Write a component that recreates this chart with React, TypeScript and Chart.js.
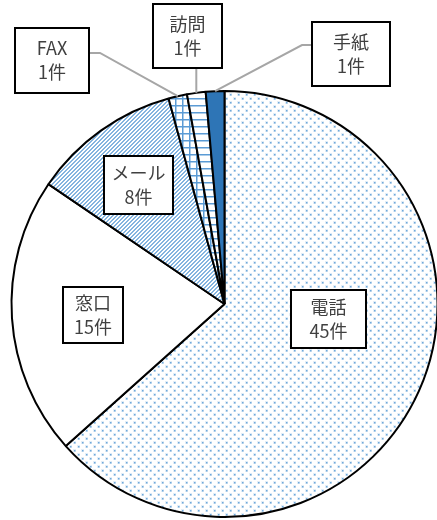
import React, { useEffect, useRef } from "react";
import { Chart, registerables } from "chart.js";

Chart.register(...registerables);

// Contact channels and how many inquiries came through each
const categories = ["電話", "窓口", "メール", "FAX", "訪問", "手紙"];
const counts = [45, 15, 8, 1, 1, 1];
const unit = "件";

const BLUE = "#5B9BD5";
const DARK_BLUE = "#2E75B6";
const LEADER = "#A6A6A6";
const TEXT = "#404040";

// Label boxes: offset of box centre from pie centre, box size, and leader style
type LabelLayout = {
  dx: number;
  dy: number;
  w: number;
  h: number;
  leader?: "left" | "right" | "down";
  attachDy?: number;
};
const labelLayout: LabelLayout[] = [
  { dx: 104, dy: 15, w: 75, h: 58 },
  { dx: -131.5, dy: 11, w: 60, h: 56 },
  { dx: -86, dy: -119, w: 69, h: 58 },
  { dx: -172.5, dy: -243.5, w: 74, h: 65, leader: "right", attachDy: -7.5 },
  { dx: -37, dy: -268, w: 69, h: 64, leader: "down" },
  { dx: 126.5, dy: -250, w: 78, h: 64, leader: "left", attachDy: -9 },
];

function makeTile(size: number, draw: (c: CanvasRenderingContext2D) => void) {
  const cv = document.createElement("canvas");
  cv.width = size;
  cv.height = size;
  const c = cv.getContext("2d")!;
  c.fillStyle = "#ffffff";
  c.fillRect(0, 0, size, size);
  draw(c);
  return cv;
}

function makeFills(ctx: CanvasRenderingContext2D): (string | CanvasPattern)[] {
  const dots = makeTile(8, (c) => {
    c.fillStyle = "rgba(91,155,213,0.18)";
    c.fillRect(1, 1, 3, 3);
    c.fillRect(5, 5, 3, 3);
    c.fillStyle = "rgba(91,155,213,0.85)";
    c.fillRect(2, 2, 1.5, 1.5);
    c.fillRect(6, 6, 1.5, 1.5);
  });
  // pixel-aligned upward diagonal, 2px wide, one line every 4px
  const diagonal = makeTile(4, (c) => {
    c.fillStyle = "rgba(91,155,213,0.75)";
    for (let k = 0; k < 4; k++) {
      c.fillRect(3 - k, k, 1, 1);
      c.fillRect((4 - k) % 4, k, 1, 1);
    }
  });
  const grid = makeTile(7, (c) => {
    c.fillStyle = BLUE;
    c.fillRect(0, 0, 7, 1.5);
    c.fillRect(0, 0, 1.5, 7);
  });
  const horizontal = makeTile(7, (c) => {
    c.fillStyle = BLUE;
    c.fillRect(0, 0, 7, 1.5);
  });
  return [
    ctx.createPattern(dots, "repeat")!,
    "#ffffff",
    ctx.createPattern(diagonal, "repeat")!,
    ctx.createPattern(grid, "repeat")!,
    ctx.createPattern(horizontal, "repeat")!,
    DARK_BLUE,
  ];
}

const labelPlugin = {
  id: "boxedLabels",
  afterDatasetsDraw(chart: any) {
    const ctx: CanvasRenderingContext2D = chart.ctx;
    const meta = chart.getDatasetMeta(0);
    ctx.save();
    meta.data.forEach((arc: any, i: number) => {
      const p = arc.getProps(["x", "y", "startAngle", "endAngle", "outerRadius"], true);
      const lay = labelLayout[i];
      const cx = p.x + lay.dx;
      const cy = p.y + lay.dy;
      const left = cx - lay.w / 2;
      const top = cy - lay.h / 2;

      if (lay.leader) {
        const mid = (p.startAngle + p.endAngle) / 2;
        const ax = p.x + Math.cos(mid) * p.outerRadius;
        const ay = p.y + Math.sin(mid) * p.outerRadius;
        ctx.strokeStyle = LEADER;
        ctx.lineWidth = 2;
        ctx.beginPath();
        if (lay.leader === "down") {
          ctx.moveTo(ax, ay);
          ctx.lineTo(ax, top + lay.h);
        } else {
          const sy = cy + (lay.attachDy || 0);
          const sx = lay.leader === "right" ? left + lay.w : left;
          const ex = lay.leader === "right" ? sx + 11 : sx - 10;
          ctx.moveTo(ax, ay);
          ctx.lineTo(ex, sy);
          ctx.lineTo(sx, sy);
        }
        ctx.stroke();
      }

      ctx.fillStyle = "#ffffff";
      ctx.fillRect(left, top, lay.w, lay.h);
      ctx.strokeStyle = "#000000";
      ctx.lineWidth = 2;
      ctx.strokeRect(left, top, lay.w, lay.h);

      ctx.fillStyle = TEXT;
      ctx.font = "18px 'Noto Sans CJK JP', 'Noto Sans', sans-serif";
      ctx.textAlign = "center";
      ctx.textBaseline = "middle";
      ctx.fillText(categories[i], cx, cy - 12);
      ctx.fillText(`${counts[i]}${unit}`, cx, cy + 12);
    });
    ctx.restore();
  },
};

export default function App() {
  const canvasRef = useRef<HTMLCanvasElement | null>(null);

  useEffect(() => {
    const canvas = canvasRef.current;
    if (!canvas) return;
    const ctx = canvas.getContext("2d")!;
    const chart = new Chart(canvas, {
      type: "pie",
      data: {
        labels: categories,
        datasets: [
          {
            data: counts,
            backgroundColor: makeFills(ctx),
            borderColor: "#000000",
            borderWidth: 2,
            borderAlign: "center",
          },
        ],
      },
      options: {
        responsive: false,
        animation: false,
        devicePixelRatio: 1,
        layout: { padding: { left: 10, right: 10, top: 90, bottom: 2 } },
        plugins: {
          legend: { display: false },
          tooltip: { enabled: false },
        },
      },
      plugins: [labelPlugin],
    });
    return () => chart.destroy();
  }, []);

  return (
    <div
      style={{
        position: "fixed",
        left: 0,
        top: 0,
        width: 437,
        height: 520,
        overflow: "hidden",
        background: "#ffffff",
      }}
    >
      <canvas ref={canvasRef} width={449} height={520} style={{ display: "block" }} />
    </div>
  );
}
